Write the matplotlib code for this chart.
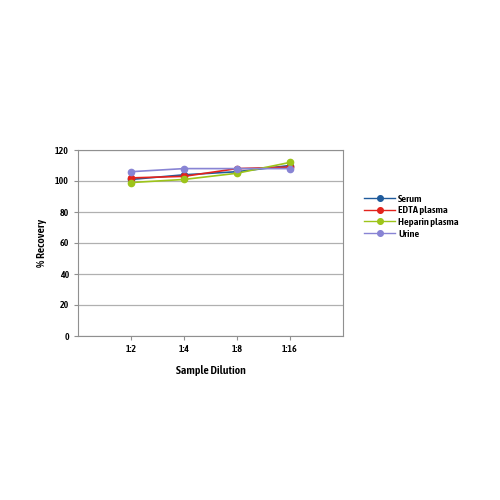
import matplotlib.pyplot as plt

plt.rcParams['font.family'] = ['Asap Condensed', 'Barlow Condensed', 'DejaVu Sans']
plt.rcParams['font.weight'] = 600
plt.rcParams['axes.labelweight'] = 600

dilutions = ['1:2', '1:4', '1:8', '1:16']
serum = [101, 104, 106, 110]
edta = [102, 103, 108, 109]
heparin = [99, 101, 105, 112]
urine = [106, 108, 108, 108]

series = [
    ('Serum', serum, '#1f5b9c'),
    ('EDTA plasma', edta, '#e3231c'),
    ('Heparin plasma', heparin, '#9dc41a'),
    ('Urine', urine, '#8884d4'),
]

fig = plt.figure(figsize=(5, 5), dpi=100)
ax = fig.add_axes([0.156, 0.328, 0.53, 0.372])

x = list(range(1, len(dilutions) + 1))
for name, vals, c in series:
    ax.plot(x, vals, color=c, marker='o', markersize=4.5, linewidth=1.2, label=name)

ax.set_xlim(0, 5)
ax.set_ylim(0, 120)
ax.set_yticks(range(0, 121, 20))
ax.set_xticks(x)
ax.set_xticklabels(dilutions)
ax.yaxis.grid(True, color='#b0b0b0', linewidth=0.9)
ax.set_axisbelow(True)
for s in ax.spines.values():
    s.set_color('#909090')
ax.tick_params(axis='both', labelsize=7, length=3, color='#909090')
ax.set_xlabel('Sample Dilution', fontsize=8.5, labelpad=8)
ax.set_ylabel('% Recovery', fontsize=8.5, labelpad=6)

leg = ax.legend(loc='upper left', bbox_to_anchor=(0.728, 0.611), bbox_transform=fig.transFigure,
                frameon=False, fontsize=7.5, handlelength=3.0, handletextpad=0.3,
                labelspacing=0.22, borderpad=0, borderaxespad=0, markerscale=0.9)
for h in leg.get_lines():
    h.set_linewidth(1.0)

fig.savefig('out.png', dpi=100)
